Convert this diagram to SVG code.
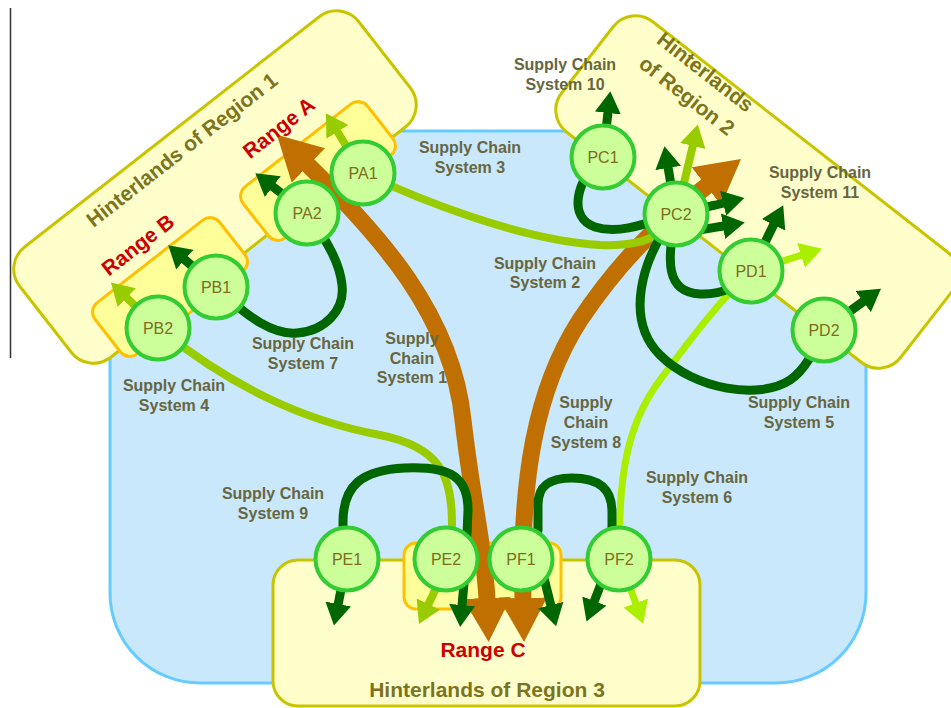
<svg xmlns="http://www.w3.org/2000/svg" width="951" height="708" viewBox="0 0 951 708">
<style>
.region{fill:#ffffcc;stroke:#c8c400;stroke-width:3}
.range{fill:#ffff99;stroke:#ffc000;stroke-width:3}
.node circle{fill:#ccff99;stroke:#33cc33;stroke-width:4}
.node text{font-family:"Liberation Sans",Arial,sans-serif;font-size:16px;fill:#7d6e1c;text-anchor:middle}
.lbl{font-family:"Liberation Sans",Arial,sans-serif;font-size:16px;font-weight:bold;fill:#67663f;text-anchor:middle}
.hint{font-family:"Liberation Sans",Arial,sans-serif;font-size:21px;font-weight:bold;fill:#7b7420;text-anchor:middle}
.rng{font-family:"Liberation Sans",Arial,sans-serif;font-size:21px;font-weight:bold;fill:#cc0000;text-anchor:middle}
.or{stroke:#c07000;stroke-width:17;fill:none;marker-start:url(#mor);marker-end:url(#mor)}
.dg{stroke:#006600;stroke-width:9;fill:none}
.dga{marker-end:url(#mdg)}
.lg{stroke:#99cc00;stroke-width:8;fill:none;marker-start:url(#mlg);marker-end:url(#mlg)}
.lm{stroke:#aaee00;stroke-width:7;fill:none;marker-start:url(#mlm);marker-end:url(#mlm)}
</style>
<defs>
<marker id="mdg" markerUnits="userSpaceOnUse" markerWidth="22" markerHeight="26" viewBox="0 0 22 26" refX="1" refY="13" orient="auto-start-reverse"><path d="M0,0 L22,13 L0,26 Z" fill="#006600"/></marker>
<marker id="mlg" markerUnits="userSpaceOnUse" markerWidth="22" markerHeight="26" viewBox="0 0 22 26" refX="1" refY="13" orient="auto-start-reverse"><path d="M0,0 L22,13 L0,26 Z" fill="#99cc00"/></marker>
<marker id="mlm" markerUnits="userSpaceOnUse" markerWidth="22" markerHeight="26" viewBox="0 0 22 26" refX="1" refY="13" orient="auto-start-reverse"><path d="M0,0 L22,13 L0,26 Z" fill="#aaee00"/></marker>
<marker id="mor" markerUnits="userSpaceOnUse" markerWidth="44" markerHeight="48" viewBox="0 0 44 48" refX="2" refY="24" orient="auto-start-reverse"><path d="M0,0 L44,24 L0,48 Z" fill="#c07000"/></marker>
</defs>
<rect width="951" height="708" fill="#ffffff"/>
<line x1="10.5" y1="8" x2="10.5" y2="358" stroke="#333333" stroke-width="1.5"/>
<g id="backgrounds">
<path id="core" d="M 250,131 L 600,131 L 866,330 L 866,593 A 90 90 0 0 1 776,683 L 200,683 A 90 90 0 0 1 110,593 L 110,330 Z" fill="#c9e8fb" stroke="#66ccff" stroke-width="3"/>
<rect id="region1" class="region" x="-215" y="-70" width="430" height="140" rx="28" transform="translate(215,187) rotate(-38)"/>
<rect id="region2" class="region" x="-215" y="-70" width="430" height="140" rx="28" transform="translate(757,192) rotate(38)"/>
<rect id="region3" class="region" x="273" y="560" width="427" height="146" rx="25"/>
<rect id="rangeA" class="range" x="-79" y="-32.5" width="158" height="65" rx="12" transform="translate(318,171) rotate(-38)"/>
<rect id="rangeB" class="range" x="-79" y="-32.5" width="158" height="65" rx="12" transform="translate(170,287) rotate(-38)"/>
<rect id="rangeC" class="range" x="404" y="543" width="157" height="66" rx="12"/>
</g>
<g id="connectors">
<path class="or" d="M 307,164 C 380,235 452,315 463,420 C 472,500 485,550 487,600"/>
<path class="or" d="M 523,600 C 520,480 535,390 580,320 C 615,268 648,232 708,185"/>
<path class="lg" d="M 337,131 L 363,173 C 420,200 520,240 600,245 C 650,247 672,232 680,200 L 693,145"/>
<path class="lg" d="M 126,297 L 158,328 C 230,385 300,420 380,435 C 440,447 452,475 452,525 C 452,560 440,580 428,605"/>
<path class="lm" d="M 636,604 L 620,560 C 617,470 630,420 660,380 C 690,340 720,300 751,271 L 802,255"/>
<path class="dg dga" d="M 307,213 L 272,186"/>
<path class="dg dga" d="M 216,287 L 184,259"/>
<path class="dg" d="M 216,287 C 250,320 275,335 297,333 C 325,331 345,310 342,285 C 340,265 330,245 307,213"/>
<path class="dg dga" d="M 603,157 L 608,112"/>
<path class="dg" d="M 603,157 C 575,180 568,218 595,227 C 620,235 650,222 676,214"/>
<path class="dg dga" d="M 676,214 L 668,167"/>
<path class="dg dga" d="M 690,212 C 700,208 712,206 724,203"/>
<path class="dg dga" d="M 692,232 C 702,229 712,228 724,226"/>
<path class="dg" d="M 676,214 C 666,262 666,292 700,294 C 720,295 737,288 751,271"/>
<path class="dg dga" d="M 751,271 L 774,224"/>
<path class="dg" d="M 676,214 C 640,260 625,320 660,355 C 695,390 760,400 790,380 C 805,370 815,350 824,330"/>
<path class="dg dga" d="M 824,330 L 864,301"/>
<path class="dg dga" d="M 347,559 L 343,525 C 342,485 362,470 405,468 C 452,466 468,478 468,510 L 466,560 L 462,606"/>
<path class="dg dga" d="M 347,559 L 338,605"/>
<path class="dg dga" d="M 521,559 L 538,530 L 538,505 C 538,485 550,478 572,478 C 600,478 612,490 612,512 L 612,555 L 594,602"/>
<path class="dg dga" d="M 542,570 L 551,606"/>
</g>
<g id="PA1" class="node"><circle cx="363" cy="173" r="31.5"/><text x="363" y="179">PA1</text></g>
<g id="PA2" class="node"><circle cx="307" cy="213" r="31.5"/><text x="307" y="219">PA2</text></g>
<g id="PB1" class="node"><circle cx="216" cy="287" r="31.5"/><text x="216" y="293">PB1</text></g>
<g id="PB2" class="node"><circle cx="158" cy="328" r="31.5"/><text x="158" y="334">PB2</text></g>
<g id="PC1" class="node"><circle cx="603" cy="157" r="31.5"/><text x="603" y="163">PC1</text></g>
<g id="PC2" class="node"><circle cx="676" cy="214" r="31.5"/><text x="676" y="220">PC2</text></g>
<g id="PD1" class="node"><circle cx="751" cy="271" r="31.5"/><text x="751" y="277">PD1</text></g>
<g id="PD2" class="node"><circle cx="824" cy="330" r="31.5"/><text x="824" y="336">PD2</text></g>
<g id="PE1" class="node"><circle cx="347" cy="559" r="31.5"/><text x="347" y="565">PE1</text></g>
<g id="PE2" class="node"><circle cx="446" cy="559" r="31.5"/><text x="446" y="565">PE2</text></g>
<g id="PF1" class="node"><circle cx="521" cy="559" r="31.5"/><text x="521" y="565">PF1</text></g>
<g id="PF2" class="node"><circle cx="619" cy="559" r="31.5"/><text x="619" y="565">PF2</text></g>
<g id="labels">
<text class="hint" transform="translate(182,150) rotate(-38)" y="7">Hinterlands of Region 1</text>
<g transform="translate(696,84) rotate(38)"><text class="hint" y="-8">Hinterlands</text><text class="hint" y="22">of Region 2</text></g>
<text class="hint" x="487" y="697">Hinterlands of Region 3</text>
<text class="rng" transform="translate(279,128) rotate(-38)" y="7">Range A</text>
<text class="rng" transform="translate(138,245) rotate(-38)" y="7">Range B</text>
<text class="rng" x="483" y="657">Range C</text>
<text class="lbl" x="303" y="349">Supply Chain</text><text class="lbl" x="303" y="369">System 7</text>
<text class="lbl" x="470" y="153">Supply Chain</text><text class="lbl" x="470" y="173">System 3</text>
<text class="lbl" x="565" y="70">Supply Chain</text><text class="lbl" x="565" y="90">System 10</text>
<text class="lbl" x="820" y="178">Supply Chain</text><text class="lbl" x="820" y="198">System 11</text>
<text class="lbl" x="545" y="269">Supply Chain</text><text class="lbl" x="545" y="288">System 2</text>
<text class="lbl" x="412" y="344">Supply</text><text class="lbl" x="412" y="364">Chain</text><text class="lbl" x="412" y="383">System 1</text>
<text class="lbl" x="174" y="391">Supply Chain</text><text class="lbl" x="174" y="411">System 4</text>
<text class="lbl" x="273" y="499">Supply Chain</text><text class="lbl" x="273" y="519">System 9</text>
<text class="lbl" x="586" y="408">Supply</text><text class="lbl" x="586" y="428">Chain</text><text class="lbl" x="586" y="448">System 8</text>
<text class="lbl" x="799" y="408">Supply Chain</text><text class="lbl" x="799" y="428">System 5</text>
<text class="lbl" x="697" y="483">Supply Chain</text><text class="lbl" x="697" y="503">System 6</text>
</g>
</svg>
